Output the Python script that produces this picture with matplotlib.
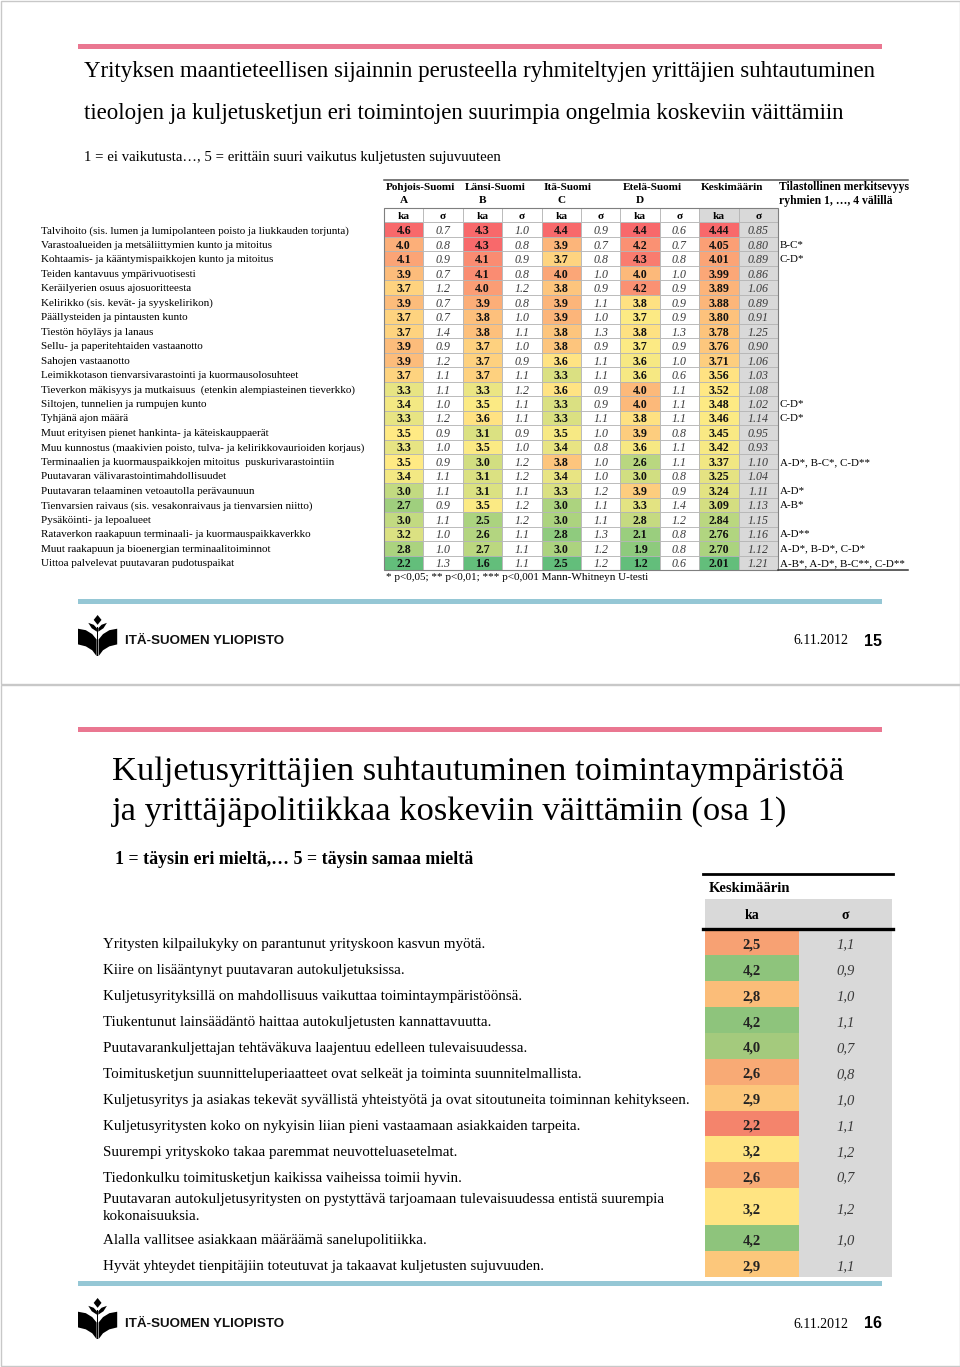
import numpy as np
import matplotlib
matplotlib.use("Agg")
import matplotlib.pyplot as plt
from matplotlib.colors import LinearSegmentedColormap, TwoSlopeNorm
from matplotlib.patches import Rectangle, Polygon
from matplotlib.transforms import blended_transform_factory

# ------------------------------------------------------------------ data: slide 15
problems = [
    "Talvihoito (sis. lumen ja lumipolanteen poisto ja liukkauden torjunta)",
    "Varastoalueiden ja metsäliittymien kunto ja mitoitus",
    "Kohtaamis- ja kääntymispaikkojen kunto ja mitoitus",
    "Teiden kantavuus ympärivuotisesti",
    "Keräilyerien osuus ajosuoritteesta",
    "Kelirikko (sis. kevät- ja syyskelirikon)",
    "Päällysteiden ja pintausten kunto",
    "Tiestön höyläys ja lanaus",
    "Sellu- ja paperitehtaiden vastaanotto",
    "Sahojen vastaanotto",
    "Leimikkotason tienvarsivarastointi ja kuormausolosuhteet",
    "Tieverkon mäkisyys ja mutkaisuus  (etenkin alempiasteinen tieverkko)",
    "Siltojen, tunnelien ja rumpujen kunto",
    "Tyhjänä ajon määrä",
    "Muut erityisen pienet hankinta- ja käteiskauppaerät",
    "Muu kunnostus (maakivien poisto, tulva- ja kelirikkovaurioiden korjaus)",
    "Terminaalien ja kuormauspaikkojen mitoitus  puskurivarastointiin",
    "Puutavaran välivarastointimahdollisuudet",
    "Puutavaran telaaminen vetoautolla perävaunuun",
    "Tienvarsien raivaus (sis. vesakonraivaus ja tienvarsien niitto)",
    "Pysäköinti- ja lepoalueet",
    "Rataverkon raakapuun terminaali- ja kuormauspaikkaverkko",
    "Muut raakapuun ja bioenergian terminaalitoiminnot",
    "Uittoa palvelevat puutavaran pudotuspaikat",
]
regions = ["Pohjois-Suomi", "Länsi-Suomi", "Itä-Suomi", "Etelä-Suomi", "Keskimäärin"]
region_codes = ["A", "B", "C", "D", ""]

ka_A = [4.6, 4.0, 4.1, 3.9, 3.7, 3.9, 3.7, 3.7, 3.9, 3.9, 3.7, 3.3, 3.4, 3.3, 3.5, 3.3, 3.5, 3.4, 3.0, 2.7, 3.0, 3.2, 2.8, 2.2]
sd_A = [0.7, 0.8, 0.9, 0.7, 1.2, 0.7, 0.7, 1.4, 0.9, 1.2, 1.1, 1.1, 1.0, 1.2, 0.9, 1.0, 0.9, 1.1, 1.1, 0.9, 1.1, 1.0, 1.0, 1.3]
ka_B = [4.3, 4.3, 4.1, 4.1, 4.0, 3.9, 3.8, 3.8, 3.7, 3.7, 3.7, 3.3, 3.5, 3.6, 3.1, 3.5, 3.0, 3.1, 3.1, 3.5, 2.5, 2.6, 2.7, 1.6]
sd_B = [1.0, 0.8, 0.9, 0.8, 1.2, 0.8, 1.0, 1.1, 1.0, 0.9, 1.1, 1.2, 1.1, 1.1, 0.9, 1.0, 1.2, 1.2, 1.1, 1.2, 1.2, 1.1, 1.1, 1.1]
ka_C = [4.4, 3.9, 3.7, 4.0, 3.8, 3.9, 3.9, 3.8, 3.8, 3.6, 3.3, 3.6, 3.3, 3.3, 3.5, 3.4, 3.8, 3.4, 3.3, 3.0, 3.0, 2.8, 3.0, 2.5]
sd_C = [0.9, 0.7, 0.8, 1.0, 0.9, 1.1, 1.0, 1.3, 0.9, 1.1, 1.1, 0.9, 0.9, 1.1, 1.0, 0.8, 1.0, 1.0, 1.2, 1.1, 1.1, 1.3, 1.2, 1.2]
ka_D = [4.4, 4.2, 4.3, 4.0, 4.2, 3.8, 3.7, 3.8, 3.7, 3.6, 3.6, 4.0, 4.0, 3.8, 3.9, 3.6, 2.6, 3.0, 3.9, 3.3, 2.8, 2.1, 1.9, 1.2]
sd_D = [0.6, 0.7, 0.8, 1.0, 0.9, 0.9, 0.9, 1.3, 0.9, 1.0, 0.6, 1.1, 1.1, 1.1, 0.8, 1.1, 1.1, 0.8, 0.9, 1.4, 1.2, 0.8, 0.8, 0.6]
ka_avg = [4.44, 4.05, 4.01, 3.99, 3.89, 3.88, 3.80, 3.78, 3.76, 3.71, 3.56, 3.52, 3.48, 3.46, 3.45, 3.42, 3.37, 3.25, 3.24, 3.09, 2.84, 2.76, 2.70, 2.01]
sd_avg = [0.85, 0.80, 0.89, 0.86, 1.06, 0.89, 0.91, 1.25, 0.90, 1.06, 1.03, 1.08, 1.02, 1.14, 0.95, 0.93, 1.10, 1.04, 1.11, 1.13, 1.15, 1.16, 1.12, 1.21]
significance = ["", "B-C*", "C-D*", "", "", "", "", "", "", "", "", "", "C-D*", "C-D*", "", "",
                "A-D*, B-C*, C-D**", "", "A-D*", "A-B*", "", "A-D**", "A-D*, B-D*, C-D*",
                "A-B*, A-D*, B-C**, C-D**"]

# ------------------------------------------------------------------ data: slide 16
statements = [
    "Yritysten kilpailukyky on parantunut yrityskoon kasvun myötä.",
    "Kiire on lisääntynyt puutavaran autokuljetuksissa.",
    "Kuljetusyrityksillä on mahdollisuus vaikuttaa toimintaympäristöönsä.",
    "Tiukentunut lainsäädäntö haittaa autokuljetusten kannattavuutta.",
    "Puutavarankuljettajan tehtäväkuva laajentuu edelleen tulevaisuudessa.",
    "Toimitusketjun suunnitteluperiaatteet ovat selkeät ja toiminta suunnitelmallista.",
    "Kuljetusyritys ja asiakas tekevät syvällistä yhteistyötä ja ovat sitoutuneita toiminnan kehitykseen.",
    "Kuljetusyritysten koko on nykyisin liian pieni vastaamaan asiakkaiden tarpeita.",
    "Suurempi yrityskoko takaa paremmat neuvotteluasetelmat.",
    "Tiedonkulku toimitusketjun kaikissa vaiheissa toimii hyvin.",
    "Puutavaran autokuljetusyritysten on pystyttävä tarjoamaan tulevaisuudessa entistä suurempia\nkokonaisuuksia.",
    "Alalla vallitsee asiakkaan määräämä sanelupolitiikka.",
    "Hyvät yhteydet tienpitäjiin toteutuvat ja takaavat kuljetusten sujuvuuden.",
]
ka16 = [2.5, 4.2, 2.8, 4.2, 4.0, 2.6, 2.9, 2.2, 3.2, 2.6, 3.2, 4.2, 2.9]
sd16 = [1.1, 0.9, 1.0, 1.1, 0.7, 0.8, 1.0, 1.1, 1.2, 0.7, 1.2, 1.0, 1.1]

# ------------------------------------------------------------------ figure
W, H = 960, 1367
SERIF = "Liberation Serif"
SANS = "Liberation Sans"
PINK = "#EA7791"
BLUE = "#95C7D5"
GREY_CELL = "#D9D9D9"
GRID = "#B5B5B5"

fig = plt.figure(figsize=(W / 100, H / 100), dpi=100)
bg = fig.add_axes([0, 0, 1, 1])
bg.set_xlim(0, W)
bg.set_ylim(H, 0)
bg.axis("off")


def px_rect(x0, y0, x1, y1):
    return [x0 / W, 1 - y1 / H, (x1 - x0) / W, (y1 - y0) / H]


def logo(x0, y0, s=1.0):
    shapes = [
        [(20, 0), (24, 5), (20, 10), (16, 5)],
        [(19.3, 17), (14, 13.5), (10.5, 8), (16, 10), (19.3, 13.5)],
        [(20.7, 17), (26, 13.5), (29.5, 8), (24, 10), (20.7, 13.5)],
        [(0, 14), (8, 15.5), (14.5, 19.5), (19, 25), (19, 42), (14.5, 36), (8, 32), (0, 30)],
        [(40, 14), (32, 15.5), (25.5, 19.5), (21, 25), (21, 42), (25.5, 36), (32, 32), (40, 30)],
        [(19.2, 12), (20.8, 12), (20.8, 42), (19.2, 42)],
    ]
    for pts in shapes:
        bg.add_patch(Polygon([(x0 + s * px, y0 + s * py) for px, py in pts],
                             closed=True, facecolor="black", edgecolor="none"))


def footer(y_line, y_text, page):
    bg.add_patch(Rectangle((78, y_line - 2.5), 804, 5, facecolor=BLUE, edgecolor="none"))
    logo(78, y_text - 26, 0.98)
    bg.text(125, y_text, "ITÄ-SUOMEN YLIOPISTO", fontsize=9.6, fontweight="bold",
            family=SANS, va="center", ha="left", color="#111111")
    bg.text(848, y_text, "6.11.2012", fontsize=10, family=SERIF, va="center", ha="right")
    bg.text(882, y_text, page, fontsize=11.5, fontweight="bold", family=SANS, va="center", ha="right")


# slide frames
bg.add_patch(Rectangle((0.5, 0.5), W - 1, 683, facecolor="white", edgecolor="#C8C8C8", lw=1))
bg.add_patch(Rectangle((0.5, 684.5), W - 1, H - 685.5, facecolor="white", edgecolor="#C8C8C8", lw=1))

# ================================================================== slide 15
bg.add_patch(Rectangle((78, 44), 804, 5, facecolor=PINK, edgecolor="none"))
bg.text(84, 72, "Yrityksen maantieteellisen sijainnin perusteella ryhmiteltyjen yrittäjien suhtautuminen",
        fontsize=16.5, family=SERIF, va="center", ha="left")
bg.text(84, 113, "tieolojen ja kuljetusketjun eri toimintojen suurimpia ongelmia koskeviin väittämiin",
        fontsize=16.5, family=SERIF, va="center", ha="left")
bg.text(84, 157, "1 = ei vaikutusta…, 5 = erittäin suuri vaikutus kuljetusten sujuvuuteen",
        fontsize=10.6, family=SERIF, va="center", ha="left")

cmap1 = LinearSegmentedColormap.from_list("gyr", ["#63BE7B", "#FFEB84", "#F8696B"])
n1 = len(problems)
ax1 = fig.add_axes(px_rect(384, 208, 778, 570))
ax1.set_xlim(0, 10)
ax1.set_ylim(n1, -1)
ax1.axis("off")

ka_cols = [ka_A, ka_B, ka_C, ka_D, ka_avg]
sd_cols = [sd_A, sd_B, sd_C, sd_D, sd_avg]
for j, (ka, sd) in enumerate(zip(ka_cols, sd_cols)):
    ka = np.asarray(ka)
    norm = TwoSlopeNorm(vmin=ka.min(), vcenter=np.median(ka), vmax=ka.max())
    fmt = "{:.2f}" if j == 4 else "{:.1f}"
    side = GREY_CELL if j == 4 else "white"
    for i in range(n1):
        ax1.add_patch(Rectangle((2 * j, i), 1, 1, facecolor=cmap1(norm(ka[i])), edgecolor=GRID, lw=0.6))
        ax1.text(2 * j + 0.5, i + 0.5, fmt.format(ka[i]), ha="center", va="center_baseline",
                 fontsize=8.6, fontweight="bold", family=SERIF, color="#111111")
        ax1.add_patch(Rectangle((2 * j + 1, i), 1, 1, facecolor=side, edgecolor=GRID, lw=0.6))
        ax1.text(2 * j + 1.5, i + 0.5, fmt.format(sd[i]), ha="center", va="center_baseline",
                 fontsize=8.6, fontstyle="italic", family=SERIF, color="#3A3A3A")
    for k, lab in enumerate(["ka", "σ"]):
        ax1.add_patch(Rectangle((2 * j + k, -1), 1, 1, facecolor=side, edgecolor=GRID, lw=0.6))
        ax1.text(2 * j + k + 0.5, -0.5, lab, ha="center", va="center_baseline",
                 fontsize=8.2, fontweight="bold", family=SERIF)
    ax1.text(2 * j + 0.05, -2.45, regions[j], ha="left", va="center",
             fontsize=8.1, fontweight="bold", family=SERIF, clip_on=False)
    ax1.text(2 * j + 0.5, -1.5, region_codes[j], ha="center", va="center",
             fontsize=8.1, fontweight="bold", family=SERIF, clip_on=False)

ax1.add_patch(Rectangle((0, -1), 10, n1 + 1, facecolor="none", edgecolor="#7F7F7F", lw=0.8, clip_on=False))
ax1.plot([0, 13.3], [-2.95, -2.95], color="#555555", lw=1.1, clip_on=False)
ax1.plot([10, 13.3], [n1, n1], color="#333333", lw=1.1, clip_on=False)
ax1.text(10.03, -2.45, "Tilastollinen merkitsevyys", ha="left", va="center",
         fontsize=8.4, fontweight="bold", family=SERIF, clip_on=False)
ax1.text(10.03, -1.5, "ryhmien 1, …, 4 välillä", ha="left", va="center",
         fontsize=8.4, fontweight="bold", family=SERIF, clip_on=False)
for i, s in enumerate(significance):
    if s:
        ax1.text(10.05, i + 0.5, s, ha="left", va="center_baseline", fontsize=7.9,
                 family=SERIF, clip_on=False)
ax1.text(0.05, n1 + 0.5, "* p<0,05; ** p<0,01; *** p<0,001 Mann-Whitneyn U-testi", ha="left",
         va="center", fontsize=8.0, family=SERIF, clip_on=False)

tr1 = blended_transform_factory(bg.transData, ax1.transData)
for i, lab in enumerate(problems):
    ax1.text(41, i + 0.5, lab, transform=tr1, ha="left", va="center_baseline",
             fontsize=8.0, family=SERIF, clip_on=False)

footer(601, 641, "15")

# ================================================================== slide 16
bg.add_patch(Rectangle((78, 727), 804, 5, facecolor=PINK, edgecolor="none"))
bg.text(112, 772, "Kuljetusyrittäjien suhtautuminen toimintaympäristöä",
        fontsize=24.8, family=SERIF, va="center", ha="left")
bg.text(112, 812, "ja yrittäjäpolitiikkaa koskeviin väittämiin (osa 1)",
        fontsize=24.8, family=SERIF, va="center", ha="left")
bg.text(115, 859, "1 = täysin eri mieltä,… 5 = täysin samaa mieltä",
        fontsize=12.9, fontweight="bold", family=SERIF, va="center", ha="left")

row_h = np.array([1.0] * 10 + [1.42] + [1.0, 1.0])
edges = np.concatenate([[0], np.cumsum(row_h)])
ax2 = fig.add_axes(px_rect(705, 929, 892, 1277))
ax2.set_xlim(0, 2)
ax2.set_ylim(edges[-1], 0)
ax2.axis("off")

cmap2 = LinearSegmentedColormap.from_list("ryg", ["#F4846C", "#FFE482", "#8EC47C"])
k16 = np.asarray(ka16)
norm2 = TwoSlopeNorm(vmin=k16.min(), vcenter=(k16.min() + k16.max()) / 2, vmax=k16.max())
tr2 = blended_transform_factory(bg.transData, ax2.transData)
for i in range(len(ka16)):
    y0, h = edges[i], row_h[i]
    ax2.add_patch(Rectangle((0, y0), 1, h, facecolor=cmap2(norm2(ka16[i])), edgecolor="none"))
    ax2.add_patch(Rectangle((1, y0), 1, h, facecolor=GREY_CELL, edgecolor="none"))
    ax2.text(0.5, y0 + h / 2 + 0.05, f"{ka16[i]:.1f}".replace(".", ","), ha="center",
             va="center_baseline", fontsize=10.5, fontweight="bold", family=SERIF, color="#222222")
    ax2.text(1.5, y0 + h / 2 + 0.05, f"{sd16[i]:.1f}".replace(".", ","), ha="center",
             va="center_baseline", fontsize=10.5, fontstyle="italic", family=SERIF, color="#3A3A3A")
    multi = "\n" in statements[i]
    ax2.text(103, y0 + h / 2 + 0.05, statements[i], transform=tr2, ha="left",
             va="center" if multi else "center_baseline",
             fontsize=10.8, family=SERIF, linespacing=1.45, clip_on=False)

ax2.add_patch(Rectangle((0, -1.16), 2, 1.16, facecolor=GREY_CELL, edgecolor="none", clip_on=False))
ax2.text(0.5, -0.56, "ka", ha="center", va="center_baseline", fontsize=10, fontweight="bold",
         family=SERIF, clip_on=False)
ax2.text(1.5, -0.56, "σ", ha="center", va="center_baseline", fontsize=10, fontweight="bold",
         family=SERIF, clip_on=False)
ax2.text(0.04, -1.55, "Keskimäärin", ha="left", va="center", fontsize=10.5, fontweight="bold",
         family=SERIF, clip_on=False)
ax2.plot([-0.02, 2.01], [-2.12, -2.12], color="black", lw=2.0, clip_on=False)
ax2.plot([-0.02, 2.01], [0, 0], color="black", lw=2.4, clip_on=False)

footer(1283, 1324, "16")

fig.savefig("out.png", dpi=100)
